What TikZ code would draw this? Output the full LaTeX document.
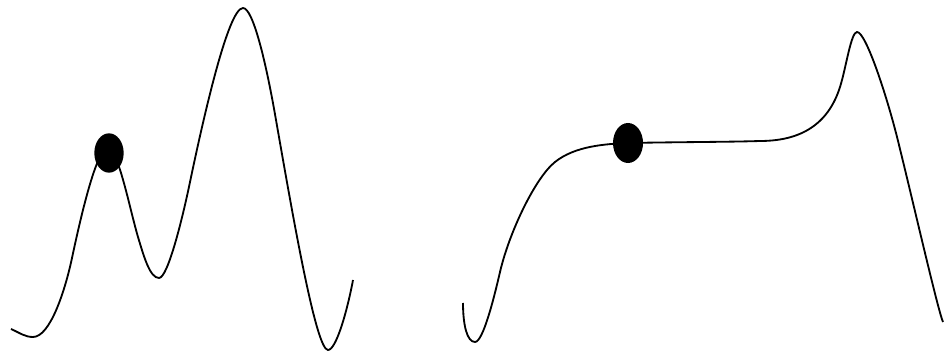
\documentclass[tikz,border=0pt]{standalone}
\usepackage{tikz}

\begin{document}
\begin{tikzpicture}[x=0.025cm, y=-0.025cm,
    curva/.style={line width=1.3pt, black, line join=round},
    bola/.style={fill=black}]
  \useasboundingbox (0,0) rectangle (944,352);
  % ---- paisagem com dois picos ----
  \begin{scope}
    \draw[curva] (11,329) .. controls (20,333) and (25,337) .. (33,337)
      .. controls (50,337) and (65,291) .. (72,258)
      .. controls (82,211) and (97,148) .. (108,148)
      .. controls (118,148) and (130,210) .. (138,237)
      .. controls (144,257) and (150,278) .. (159,278)
      .. controls (168,278) and (183,216) .. (190,182)
      .. controls (203,120) and (228,8) .. (243,8)
      .. controls (253,8) and (266,62) .. (276,120)
      .. controls (293,217) and (316,350) .. (328,350)
      .. controls (336,350) and (347,312) .. (353,280);
    \fill[bola] (109,153) ellipse [x radius=0.367cm, y radius=0.492cm];
  \end{scope}
  % ---- paisagem com plat\^o ----
  \begin{scope}
    \draw[curva] (463,303) .. controls (463,325) and (467,342) .. (475,342)
      .. controls (483,342) and (494,298) .. (500,272)
      .. controls (509,233) and (535,178) .. (555,162)
      .. controls (575,146) and (605,144) .. (628,143)
      .. controls (680,142) and (730,142) .. (760,141)
      .. controls (800,141) and (828,125) .. (840,87)
      .. controls (846,68) and (851,32) .. (857,32)
      .. controls (866,32) and (887,97) .. (897,137)
      .. controls (912,197) and (938,311) .. (943,322);
    \fill[bola] (628,143) ellipse [x radius=0.375cm, y radius=0.5cm];
  \end{scope}
\end{tikzpicture}
\end{document}
